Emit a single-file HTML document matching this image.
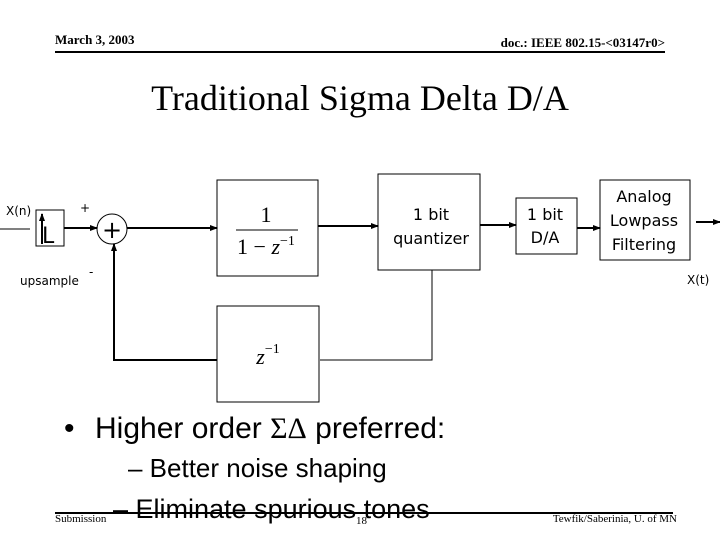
<!DOCTYPE html>
<html><head><meta charset="utf-8"><style>
html,body{margin:0;padding:0;background:#fff;}
svg{display:block;}
</style></head><body>
<svg width="720" height="540" viewBox="0 0 720 540" xmlns="http://www.w3.org/2000/svg">
<defs><marker id="a" markerWidth="8" markerHeight="6" refX="7" refY="3" orient="auto" markerUnits="userSpaceOnUse"><path d="M0,0 L8,3 L0,6 z" fill="#000"/></marker></defs>
<g font-family="Liberation Serif, serif" font-weight="bold" font-size="13">
<text x="55" y="44">March 3, 2003</text>
<text x="665" y="47" text-anchor="end">doc.: IEEE 802.15-&lt;03147r0&gt;</text>
</g>
<line x1="55" y1="52" x2="665" y2="52" stroke="#000" stroke-width="2"/>
<text x="360" y="110" text-anchor="middle" font-family="Liberation Serif, serif" font-size="36">Traditional Sigma Delta D/A</text>

<g stroke="#000" fill="none">
<line x1="0" y1="229" x2="30" y2="229" stroke-width="1"/>
<rect x="36" y="210" width="28" height="36" stroke-width="1"/>
<line x1="42" y1="244" x2="42" y2="214" stroke-width="2" marker-end="url(#a)"/>
<line x1="64" y1="228" x2="97" y2="228" stroke-width="2" marker-end="url(#a)"/>
<circle cx="112" cy="229" r="15" stroke-width="1"/>
<line x1="127" y1="228" x2="217" y2="228" stroke-width="2" marker-end="url(#a)"/>
<rect x="217" y="180" width="101" height="96" stroke-width="1"/>
<line x1="318" y1="226" x2="378" y2="226" stroke-width="2" marker-end="url(#a)"/>
<rect x="378" y="174" width="102" height="96" stroke-width="1"/>
<line x1="480" y1="225" x2="516" y2="225" stroke-width="2" marker-end="url(#a)"/>
<rect x="516" y="198" width="61" height="56" stroke-width="1"/>
<line x1="577" y1="228" x2="600" y2="228" stroke-width="2" marker-end="url(#a)"/>
<rect x="600" y="180" width="90" height="80" stroke-width="1"/>
<line x1="696" y1="222" x2="720" y2="222" stroke-width="2" marker-end="url(#a)"/>
<polyline points="432,270 432,360 320,360" stroke-width="1"/>
<rect x="217" y="306" width="102" height="96" stroke-width="1"/>
<polyline points="217,360 114,360 114,244" stroke-width="2"/>
<line x1="114" y1="250" x2="114" y2="244" stroke-width="2" marker-end="url(#a)"/>
</g>
<g font-family="DejaVu Sans, sans-serif" font-size="12" fill="#000">
<text x="6" y="215">X(n)</text>
<text x="20" y="285">upsample</text>
<text x="80" y="212">+</text>
<text x="89" y="276">-</text>
<text x="687" y="284">X(t)</text>
</g>
<text x="42" y="243" font-family="DejaVu Sans, sans-serif" font-size="22">L</text>
<text x="112" y="238" text-anchor="middle" font-family="DejaVu Sans, sans-serif" font-size="24">+</text>
<g font-family="Liberation Serif, serif" font-size="22" text-anchor="middle">
<text x="266" y="222">1</text>
<line x1="236" y1="230" x2="298" y2="230" stroke="#000" stroke-width="1"/>
<text x="266" y="254">1 − <tspan font-style="italic">z</tspan><tspan font-size="14" dy="-9">−1</tspan></text>
<text x="268" y="364"><tspan font-style="italic">z</tspan><tspan font-size="14" dy="-11">−1</tspan></text>
</g>
<g font-family="DejaVu Sans, sans-serif" font-size="16" text-anchor="middle">
<text x="431" y="220">1 bit</text>
<text x="431" y="244">quantizer</text>
<text x="545" y="220">1 bit</text>
<text x="545" y="243">D/A</text>
<text x="644" y="202">Analog</text>
<text x="644" y="226">Lowpass</text>
<text x="644" y="250">Filtering</text>
</g>
<g font-family="Liberation Sans, sans-serif" fill="#000">
<text x="64" y="438" font-size="30">•</text>
<text x="95" y="438" font-size="30">Higher order <tspan font-family="Liberation Serif, serif">ΣΔ</tspan> preferred:</text>
<text x="128" y="477" font-size="26">– Better noise shaping</text>
<text x="113" y="518" font-size="27">– Eliminate spurious tones</text>
</g>
<line x1="55" y1="513" x2="673" y2="513" stroke="#000" stroke-width="2"/>
<g font-family="Liberation Serif, serif" font-size="11">
<text x="55" y="522">Submission</text>
<text x="356" y="524">18</text>
<text x="677" y="522" text-anchor="end">Tewfik/Saberinia, U. of MN</text>
</g>
</svg>
</body></html>
